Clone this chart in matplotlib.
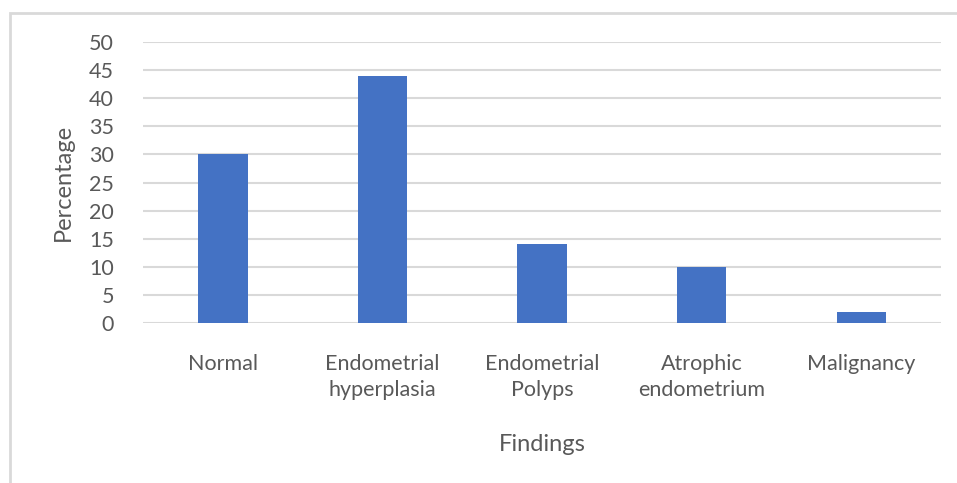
import matplotlib
matplotlib.use("Agg")
import matplotlib.pyplot as plt
from matplotlib.patches import Rectangle

categories = ["Normal", "Endometrial\nhyperplasia", "Endometrial\nPolyps",
              "Atrophic\nendometrium", "Malignancy"]
percentages = [30, 44, 14, 10, 2]
y_ticks = list(range(0, 55, 5))

plt.rcParams["font.family"] = ["Lato", "DejaVu Sans"]
text_color = "#595959"
grid_color = "#d9d9d9"
bar_color = "#4472c4"

fig = plt.figure(figsize=(9.57, 4.83), dpi=100)
ax = fig.add_axes([0.1494, 0.3313, 0.834, 0.5817])

x = list(range(len(categories)))
ax.bar(x, percentages, width=0.31, color=bar_color, zorder=3)

ax.set_xlim(-0.5, len(categories) - 0.5)
ax.set_ylim(0, 50)
ax.set_yticks(y_ticks)
ax.set_yticklabels([str(v) for v in y_ticks])
ax.set_xticks(x)
ax.set_xticklabels(categories, linespacing=1.42)

ax.grid(axis="y", color=grid_color, linewidth=1.5, zorder=0)
ax.set_axisbelow(True)
for s in ax.spines.values():
    s.set_visible(False)
ax.tick_params(axis="both", length=0, labelsize=15.5, colors=text_color)
ax.tick_params(axis="y", pad=21)
ax.tick_params(axis="x", pad=22)
for lbl in ax.get_xticklabels():
    lbl.set_verticalalignment("top")

ax.set_xlabel("Findings", fontsize=17, color=text_color, labelpad=24)
ax.set_ylabel("Percentage", fontsize=17, color=text_color, labelpad=11)

# chart frame
fig.patches.append(Rectangle((9.5 / 957, -0.1), 1.2, 1.1 - 13.5 / 483,
                             transform=fig.transFigure, fill=False,
                             edgecolor="#d9d9d9", linewidth=2))

fig.savefig("out.png", dpi=100)
